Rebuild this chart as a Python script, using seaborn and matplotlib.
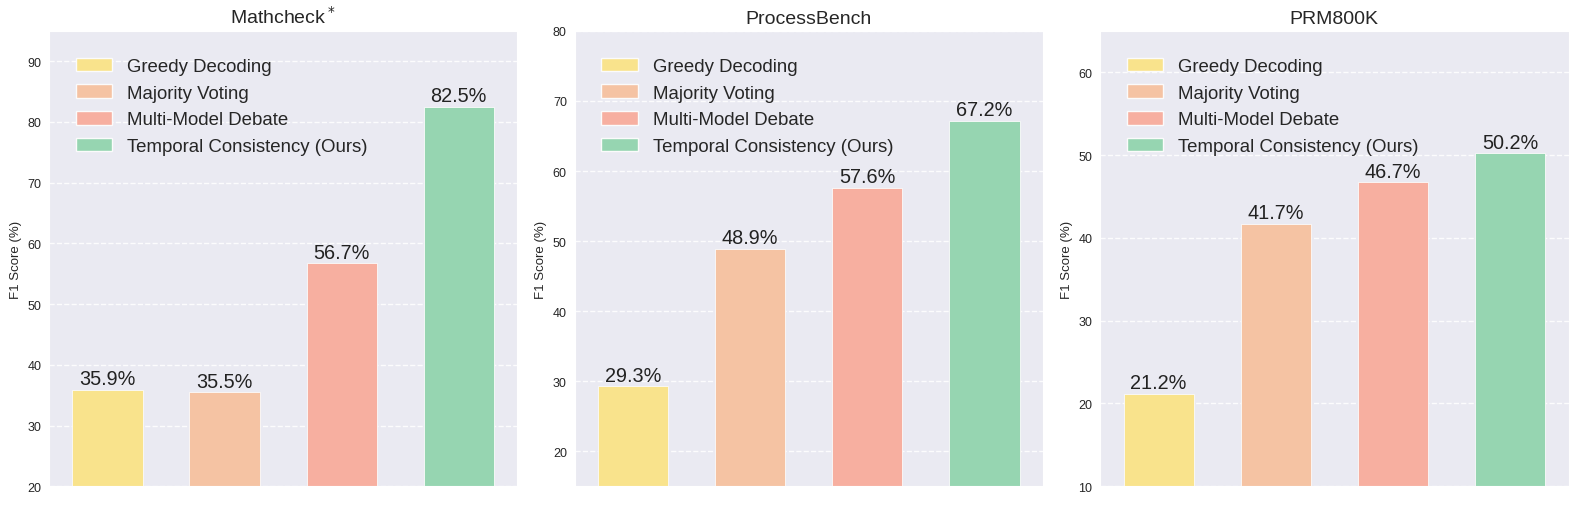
import matplotlib
matplotlib.use("Agg")
import matplotlib.pyplot as plt
from matplotlib.patches import Patch
import seaborn as sns
import pandas as pd

# Datos
metodos = ["Greedy Decoding", "Majority Voting", "Multi-Model Debate", "Temporal Consistency (Ours)"]
colores = ["#F9E38C", "#F5C3A3", "#F7AFA0", "#96D5B1"]

titulos = ["Mathcheck$^*$", "ProcessBench", "PRM800K"]
mathcheck_f1 = [35.9, 35.5, 56.7, 82.5]
processbench_f1 = [29.3, 48.9, 57.6, 67.2]
prm800k_f1 = [21.2, 41.7, 46.7, 50.2]
limites_y = [(20, 95), (15, 80), (10, 65)]

sns.set_style("darkgrid", {"grid.linestyle": "--", "grid.color": "white"})
plt.rcParams['font.family'] = ['Liberation Sans', 'DejaVu Sans']

fig, axes = plt.subplots(1, 3, figsize=(15.78, 5.06), dpi=100)
plt.subplots_adjust(left=0.031, right=0.994, top=0.937, bottom=0.037, wspace=0.122)

for ax, titulo, valores, lim in zip(axes, titulos, [mathcheck_f1, processbench_f1, prm800k_f1], limites_y):
    df = pd.DataFrame({"metodo": metodos, "f1": valores})
    sns.barplot(data=df, x="metodo", y="f1", hue="metodo", palette=colores, width=0.6,
                saturation=1, edgecolor="#fbfbfb", linewidth=0.6, legend=False, ax=ax)
    ax.set_ylim(*lim)
    ax.set_title(titulo, fontsize=14, pad=6)
    ax.set_xlabel("")
    ax.set_ylabel("F1 Score (%)", fontsize=9.5)
    ax.set_xticks([])
    ax.tick_params(axis="y", labelsize=9, pad=2)
    ax.grid(axis="x", visible=False)
    ax.grid(axis="y", linestyle="--", color="white", linewidth=1, alpha=0.9)

    # Etiquetas sobre las barras
    for c in ax.containers:
        ax.bar_label(c, fmt="%.1f%%", fontsize=14.3, padding=1, color="#222222")

    handles = [Patch(facecolor=col, edgecolor="#fbfbfb", label=m) for m, col in zip(metodos, colores)]
    ax.legend(handles=handles, loc="upper left", frameon=False, fontsize=13.4,
              handlelength=1.95, handleheight=0.75, labelspacing=0.5, borderaxespad=1.05,
              handletextpad=0.8)

plt.savefig("out.png", dpi=100)
